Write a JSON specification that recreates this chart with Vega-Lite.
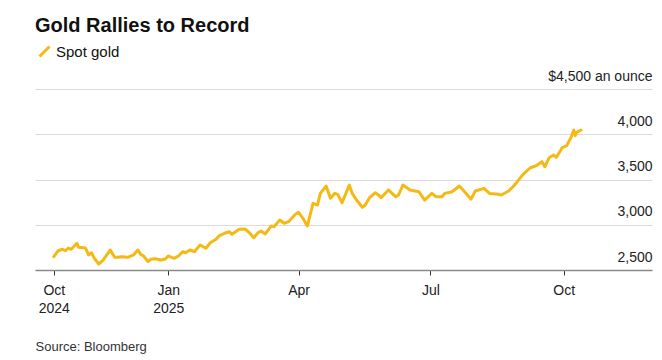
{
  "$schema": "https://vega.github.io/schema/vega-lite/v6.json",
  "autosize": {"type": "none"},
  "width": 617,
  "height": 181,
  "padding": {"left": 35, "top": 89, "right": 10, "bottom": 90},
  "background": "white",
  "title": {
    "text": "Gold Rallies to Record",
    "anchor": "start",
    "frame": "group",
    "font": "Liberation Sans",
    "fontSize": 20,
    "fontWeight": "bold",
    "color": "#111111",
    "offset": 8
  },
  "config": {
    "view": {"stroke": null},
    "font": "Liberation Sans"
  },
  "data": {
    "values": [
      {"date": "2024-10-14", "price": 2647},
      {"date": "2024-10-17", "price": 2713},
      {"date": "2024-10-20", "price": 2729},
      {"date": "2024-10-22", "price": 2713},
      {"date": "2024-10-24", "price": 2743},
      {"date": "2024-10-26", "price": 2729},
      {"date": "2024-10-30", "price": 2795},
      {"date": "2024-10-31", "price": 2751},
      {"date": "2024-11-04", "price": 2746},
      {"date": "2024-11-05", "price": 2740},
      {"date": "2024-11-07", "price": 2666},
      {"date": "2024-11-09", "price": 2691},
      {"date": "2024-11-11", "price": 2629},
      {"date": "2024-11-14", "price": 2566},
      {"date": "2024-11-17", "price": 2610},
      {"date": "2024-11-22", "price": 2721},
      {"date": "2024-11-25", "price": 2640},
      {"date": "2024-11-27", "price": 2640},
      {"date": "2024-11-30", "price": 2647},
      {"date": "2024-12-04", "price": 2640},
      {"date": "2024-12-08", "price": 2666},
      {"date": "2024-12-11", "price": 2721},
      {"date": "2024-12-13", "price": 2673},
      {"date": "2024-12-15", "price": 2655},
      {"date": "2024-12-18", "price": 2592},
      {"date": "2024-12-20", "price": 2618},
      {"date": "2024-12-23", "price": 2625},
      {"date": "2024-12-27", "price": 2610},
      {"date": "2024-12-30", "price": 2621},
      {"date": "2025-01-01", "price": 2655},
      {"date": "2025-01-05", "price": 2629},
      {"date": "2025-01-08", "price": 2655},
      {"date": "2025-01-11", "price": 2702},
      {"date": "2025-01-13", "price": 2691},
      {"date": "2025-01-16", "price": 2721},
      {"date": "2025-01-19", "price": 2702},
      {"date": "2025-01-23", "price": 2776},
      {"date": "2025-01-27", "price": 2740},
      {"date": "2025-01-30", "price": 2801},
      {"date": "2025-02-03", "price": 2839},
      {"date": "2025-02-05", "price": 2876},
      {"date": "2025-02-09", "price": 2906},
      {"date": "2025-02-12", "price": 2923},
      {"date": "2025-02-14", "price": 2895},
      {"date": "2025-02-19", "price": 2950},
      {"date": "2025-02-23", "price": 2953},
      {"date": "2025-02-26", "price": 2912},
      {"date": "2025-03-01", "price": 2857},
      {"date": "2025-03-04", "price": 2912},
      {"date": "2025-03-06", "price": 2931},
      {"date": "2025-03-09", "price": 2898},
      {"date": "2025-03-13", "price": 2986},
      {"date": "2025-03-15", "price": 2979},
      {"date": "2025-03-19", "price": 3052},
      {"date": "2025-03-22", "price": 3016},
      {"date": "2025-03-25", "price": 3034},
      {"date": "2025-03-30", "price": 3119},
      {"date": "2025-04-01", "price": 3137},
      {"date": "2025-04-04", "price": 3071},
      {"date": "2025-04-07", "price": 2986},
      {"date": "2025-04-11", "price": 3237},
      {"date": "2025-04-14", "price": 3218},
      {"date": "2025-04-16", "price": 3347},
      {"date": "2025-04-20", "price": 3428},
      {"date": "2025-04-23", "price": 3292},
      {"date": "2025-04-26", "price": 3347},
      {"date": "2025-04-28", "price": 3336},
      {"date": "2025-05-01", "price": 3243},
      {"date": "2025-05-06", "price": 3439},
      {"date": "2025-05-08", "price": 3347},
      {"date": "2025-05-11", "price": 3273},
      {"date": "2025-05-15", "price": 3193},
      {"date": "2025-05-17", "price": 3218},
      {"date": "2025-05-20", "price": 3299},
      {"date": "2025-05-24", "price": 3354},
      {"date": "2025-05-27", "price": 3318},
      {"date": "2025-05-28", "price": 3299},
      {"date": "2025-06-02", "price": 3385},
      {"date": "2025-06-07", "price": 3310},
      {"date": "2025-06-09", "price": 3329},
      {"date": "2025-06-12", "price": 3439},
      {"date": "2025-06-17", "price": 3384},
      {"date": "2025-06-23", "price": 3365},
      {"date": "2025-06-27", "price": 3273},
      {"date": "2025-07-02", "price": 3347},
      {"date": "2025-07-05", "price": 3310},
      {"date": "2025-07-09", "price": 3310},
      {"date": "2025-07-11", "price": 3347},
      {"date": "2025-07-16", "price": 3365},
      {"date": "2025-07-21", "price": 3428},
      {"date": "2025-07-26", "price": 3340},
      {"date": "2025-07-29", "price": 3283},
      {"date": "2025-08-01", "price": 3373},
      {"date": "2025-08-07", "price": 3402},
      {"date": "2025-08-11", "price": 3345},
      {"date": "2025-08-17", "price": 3336},
      {"date": "2025-08-19", "price": 3329},
      {"date": "2025-08-24", "price": 3373},
      {"date": "2025-08-27", "price": 3420},
      {"date": "2025-08-30", "price": 3476},
      {"date": "2025-09-03", "price": 3557},
      {"date": "2025-09-08", "price": 3630},
      {"date": "2025-09-12", "price": 3652},
      {"date": "2025-09-16", "price": 3697},
      {"date": "2025-09-18", "price": 3641},
      {"date": "2025-09-21", "price": 3741},
      {"date": "2025-09-24", "price": 3771},
      {"date": "2025-09-26", "price": 3745},
      {"date": "2025-09-30", "price": 3851},
      {"date": "2025-10-03", "price": 3873},
      {"date": "2025-10-06", "price": 3962},
      {"date": "2025-10-08", "price": 4047},
      {"date": "2025-10-09", "price": 3984},
      {"date": "2025-10-10", "price": 4021},
      {"date": "2025-10-13", "price": 4047}
    ]
  },
  "mark": {"type": "line", "strokeWidth": 3, "strokeJoin": "round", "strokeCap": "round"},
  "encoding": {
    "x": {
      "field": "date",
      "type": "temporal",
      "scale": {
        "type": "utc",
        "domain": [
          {"year": 2024, "month": 10, "date": 1, "utc": true},
          {"year": 2025, "month": 12, "date": 1, "utc": true}
        ]
      },
      "axis": {
        "values": [
          {"year": 2024, "month": 10, "date": 14, "utc": true},
          {"year": 2025, "month": 1, "date": 1, "utc": true},
          {"year": 2025, "month": 4, "date": 1, "utc": true},
          {"year": 2025, "month": 7, "date": 1, "utc": true},
          {"year": 2025, "month": 10, "date": 1, "utc": true}
        ],
        "labelExpr": "(utcyear(datum.value) == 2024 || utcmonth(datum.value) == 0) ? [utcFormat(datum.value, '%b'), utcFormat(datum.value, '%Y')] : utcFormat(datum.value, '%b')",
        "grid": false,
        "domainColor": "#8a8a8a",
        "domainWidth": 1.5,
        "tickColor": "#333333",
        "tickSize": 5,
        "tickWidth": 1,
        "labelPadding": 8,
        "labelFont": "Liberation Sans",
        "labelFontSize": 14,
        "labelColor": "#222222",
        "labelLineHeight": 18,
        "labelBaseline": "top",
        "labelFlush": false,
        "labelOverlap": false,
        "title": "Source: Bloomberg",
        "titleX": 0,
        "titleY": 80,
        "titleAlign": "left",
        "titleAnchor": "start",
        "titleBaseline": "alphabetic",
        "titleFont": "Liberation Sans",
        "titleFontSize": 13,
        "titleFontWeight": "normal",
        "titleColor": "#333333"
      }
    },
    "y": {
      "field": "price",
      "type": "quantitative",
      "scale": {"domain": [2500, 4500], "zero": false, "nice": false},
      "axis": {
        "orient": "right",
        "values": [2500, 3000, 3500, 4000, 4500],
        "grid": true,
        "gridColor": "#dcdcdc",
        "gridWidth": 1,
        "domain": false,
        "ticks": false,
        "tickSize": 0,
        "labelPadding": 0,
        "labelAlign": "right",
        "labelBaseline": "alphabetic",
        "labelOffset": -9,
        "labelFont": "Liberation Sans",
        "labelFontSize": 14,
        "labelColor": "#222222",
        "labelOverlap": false,
        "labelExpr": "datum.value == 4500 ? '$4,500 an ounce' : format(datum.value, ',')",
        "title": null
      }
    },
    "color": {
      "datum": "Spot gold",
      "scale": {"range": ["#F4B914"]},
      "legend": {
        "title": null,
        "orient": "none",
        "legendX": 2,
        "legendY": -45,
        "padding": 0,
        "symbolType": "M-1,1L1,-1",
        "symbolSize": 100,
        "symbolStrokeWidth": 3,
        "symbolFillColor": "transparent",
        "labelFont": "Liberation Sans",
        "labelFontSize": 15,
        "labelColor": "#111111",
        "labelOffset": 4
      }
    }
  }
}
